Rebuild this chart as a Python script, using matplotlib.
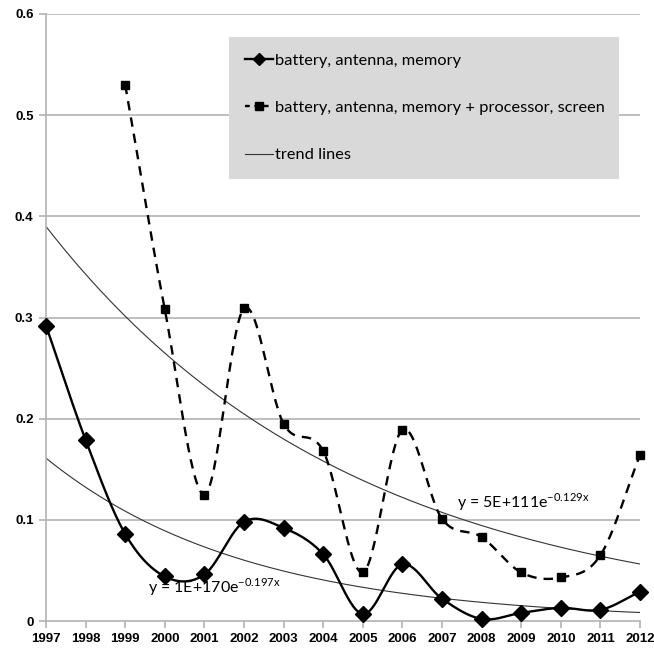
import numpy as np
import matplotlib
matplotlib.use('Agg')
import matplotlib.pyplot as plt
from matplotlib.lines import Line2D

years = np.arange(1997, 2013)
basic = [0.292, 0.179, 0.086, 0.044, 0.046, 0.098, 0.092, 0.066,
         0.007, 0.056, 0.022, 0.002, 0.008, 0.013, 0.011, 0.029]
years_full = np.arange(1999, 2013)
full = [0.53, 0.308, 0.125, 0.309, 0.195, 0.168, 0.048, 0.189,
        0.101, 0.083, 0.048, 0.043, 0.065, 0.164]

# trend lines: value at 1997 and decay rate
trend_start = [0.161, 0.39]
trend_rate = [0.197, 0.129]
trend_labels = ['y = 1E+170e$^{\\mathregular{-0.197x}}$',
                'y = 5E+111e$^{\\mathregular{-0.129x}}$']
yticks = [0, 0.1, 0.2, 0.3, 0.4, 0.5, 0.6]

plt.rcParams['font.family'] = ['Lato', 'DejaVu Sans']


def smooth(x, y, n=30):
    # catmull-rom, like excel's smoothed line
    x = np.asarray(x, float)
    y = np.asarray(y, float)
    px = np.concatenate([[2 * x[0] - x[1]], x, [2 * x[-1] - x[-2]]])
    py = np.concatenate([[2 * y[0] - y[1]], y, [2 * y[-1] - y[-2]]])
    xs, ys = [], []
    t = np.linspace(0, 1, n)
    for i in range(1, len(px) - 2):
        for p, out in ((px, xs), (py, ys)):
            p0, p1, p2, p3 = p[i - 1], p[i], p[i + 1], p[i + 2]
            out.extend(0.5 * ((2 * p1) + (-p0 + p2) * t
                              + (2 * p0 - 5 * p1 + 4 * p2 - p3) * t ** 2
                              + (-p0 + 3 * p1 - 3 * p2 + p3) * t ** 3))
    return xs, ys


fig = plt.figure(figsize=(6.54, 6.5), dpi=100)
ax = fig.add_axes([46 / 654, 29 / 650, 594 / 654, 607 / 650])

grid_c = '#b3b3b3'
for v in yticks[1:]:
    ax.axhline(v, color=grid_c, lw=1.2, zorder=0)

xt = np.linspace(1997, 2012, 200)
for a, r in zip(trend_start, trend_rate):
    ax.plot(xt, a * np.exp(-r * (xt - 1997)), color='#333333', lw=0.8, zorder=2)

sx, sy = smooth(years, basic)
ax.plot(sx, sy, color='black', lw=1.7, zorder=3, clip_on=False)
ax.plot(years, basic, 'D', color='black', ms=8, zorder=4, clip_on=False)

sx, sy = smooth(years_full, full)
ax.plot(sx, sy, color='black', lw=1.7, ls=(0, (4, 3)), zorder=3)
ax.plot(years_full, full, 's', color='black', ms=6, zorder=4, clip_on=False)

ax.text(1999.58, 0.033, trend_labels[0], fontsize=11.5, va='center', ha='left')
ax.text(2007.38, 0.117, trend_labels[1], fontsize=11.5, va='center', ha='left')

tick_font = dict(family='Liberation Sans', weight='bold', size=9.5)
ax.set_xlim(1997, 2012)
ax.set_ylim(0, 0.6)
ax.set_xticks(years)
ax.set_xticklabels([str(y) for y in years], fontdict=tick_font)
ax.set_yticks(yticks)
ax.set_yticklabels(['0', '0.1', '0.2', '0.3', '0.4', '0.5', '0.6'], fontdict=tick_font)
for s in ['top', 'right']:
    ax.spines[s].set_visible(False)
for s in ['left', 'bottom']:
    ax.spines[s].set_color(grid_c)
    ax.spines[s].set_linewidth(1.2)
ax.tick_params(axis='both', color=grid_c, length=5, width=1.2, pad=4)

handles = [
    Line2D([], [], color='black', lw=1.7, marker='D', ms=6),
    Line2D([], [], color='black', lw=1.7, ls=(0, (2, 2)), marker='s', ms=6),
    Line2D([], [], color='#333333', lw=0.8),
]
labels = ['battery, antenna, memory',
          'battery, antenna, memory + processor, screen',
          'trend lines']
leg = ax.legend(handles, labels, loc='upper left',
                bbox_to_anchor=(0.308, 0.962, 0.657, 0.0),
                mode='expand', fontsize=11.8, handlelength=1.7, handletextpad=0.1,
                labelspacing=2.0, borderpad=1.0, borderaxespad=0,
                fancybox=False, frameon=True)
leg.get_frame().set_facecolor('#d9d9d9')
leg.get_frame().set_edgecolor('none')
leg.get_frame().set_alpha(1)

fig.savefig('out.png', dpi=100)
